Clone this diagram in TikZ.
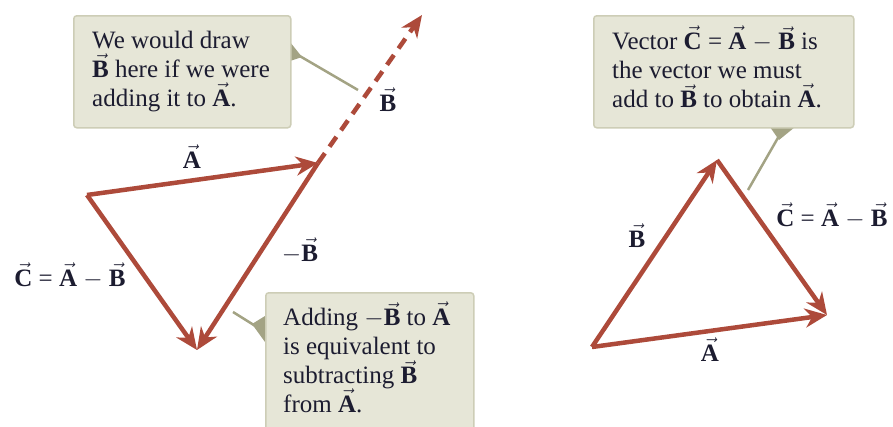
\documentclass[tikz,border=0pt]{standalone}
\usepackage{fontspec}
\setmainfont{Liberation Serif}
\usetikzlibrary{arrows.meta}
\definecolor{vecc}{HTML}{AD4A3A}
\definecolor{boxfill}{HTML}{E6E6D7}
\definecolor{boxline}{HTML}{CDCDB6}
\definecolor{ptrc}{HTML}{A3A384}
\definecolor{txt}{HTML}{1C1C30}
\newcommand{\vb}[1]{\ensuremath{\vec{\mbox{\textbf{#1}}}}}
\begin{document}
\begin{tikzpicture}[x=1pt,y=-1pt,
  vecarrow/.style={line width=4.5pt,draw=vecc,-{Stealth[length=22pt,width=19pt,inset=7pt]}},
  dasharrow/.style={vecarrow,dash pattern=on 12pt off 8pt},
  callout/.style={draw=boxline,fill=boxfill,line width=1.5pt,rounded corners=3pt,inner sep=0pt,anchor=north west},
  ptrline/.style={draw=ptrc,line width=2.5pt},
  ptrtip/.style={fill=ptrc},
  boxtext/.style={anchor=north west,inner sep=0pt,align=left,text=txt,font=\fontsize{25}{29}\selectfont},
  lbl/.style={anchor=base,inner sep=0pt,text=txt,font=\fontsize{25}{29}\selectfont}]
\useasboundingbox (0,0) rectangle (893,426);

% ---------- left figure ----------
\coordinate (Ls) at (87,195);
\coordinate (Le) at (318,163);
\coordinate (Lc) at (197,350);
\coordinate (Lb) at (422,15);

\draw[dasharrow] (Le) -- (Lb);
\draw[vecarrow] (Ls) -- (Le);
\draw[vecarrow] (Le) -- (Lc);
\draw[vecarrow] (Ls) -- (Lc);

\node[lbl] (lA) at (192,168) {\vb{A}};
\node[lbl] (lB) at (388,111) {\vb{B}};
\node[lbl] (lmB) at (300,261) {$-$\vb{B}};
\node[lbl] (lC) at (70,286) {\vb{C} = \vb{A} $-$ \vb{B}};

% callout 1
\coordinate (p1) at (358,90);
\fill[ptrtip] (290,42) -- (302,57) -- (290,61) -- cycle;
\draw[ptrline] (298,55) -- (p1);
\node[callout,minimum width=217pt,minimum height=112pt] (box1) at (73,15) {};
\node[boxtext] (t1) at (92,31) {We would draw\\ \vb{B} here if we were\\ adding it to \vb{A}.};

% callout 2
\coordinate (p2) at (233,312);
\fill[ptrtip] (265,316) -- (252,324) -- (265,342) -- cycle;
\draw[ptrline] (257,327) -- (p2);
\node[callout,minimum width=208pt,minimum height=150pt] (box2) at (265,292) {};
\node[boxtext] (t2) at (283,302) {Adding $-$\vb{B} to \vb{A}\\ is equivalent to\\ subtracting \vb{B}\\ from \vb{A}.};

% ---------- right figure ----------
\coordinate (Rs) at (592,347);
\coordinate (Rt) at (717,160);
\coordinate (Re) at (827,315);

\draw[vecarrow] (Rs) -- (Rt);
\draw[vecarrow] (Rt) -- (Re);
\draw[vecarrow] (Rs) -- (Re);

\node[lbl] (rB) at (637,247) {\vb{B}};
\node[lbl] (rC) at (832,226) {\vb{C} = \vb{A} $-$ \vb{B}};
\node[lbl] (rA) at (710,361) {\vb{A}};

% callout 3
\coordinate (p3) at (748,190);
\fill[ptrtip] (770,127) -- (779,140) -- (795,127) -- cycle;
\draw[ptrline] (779,136) -- (p3);
\node[callout,minimum width=260pt,minimum height=112pt] (box3) at (593,15) {};
\node[boxtext] (t3) at (612,26) {Vector \vb{C} = \vb{A} $-$ \vb{B} is\\ the vector we must\\ add to \vb{B} to obtain \vb{A}.};
\end{tikzpicture}
\end{document}
